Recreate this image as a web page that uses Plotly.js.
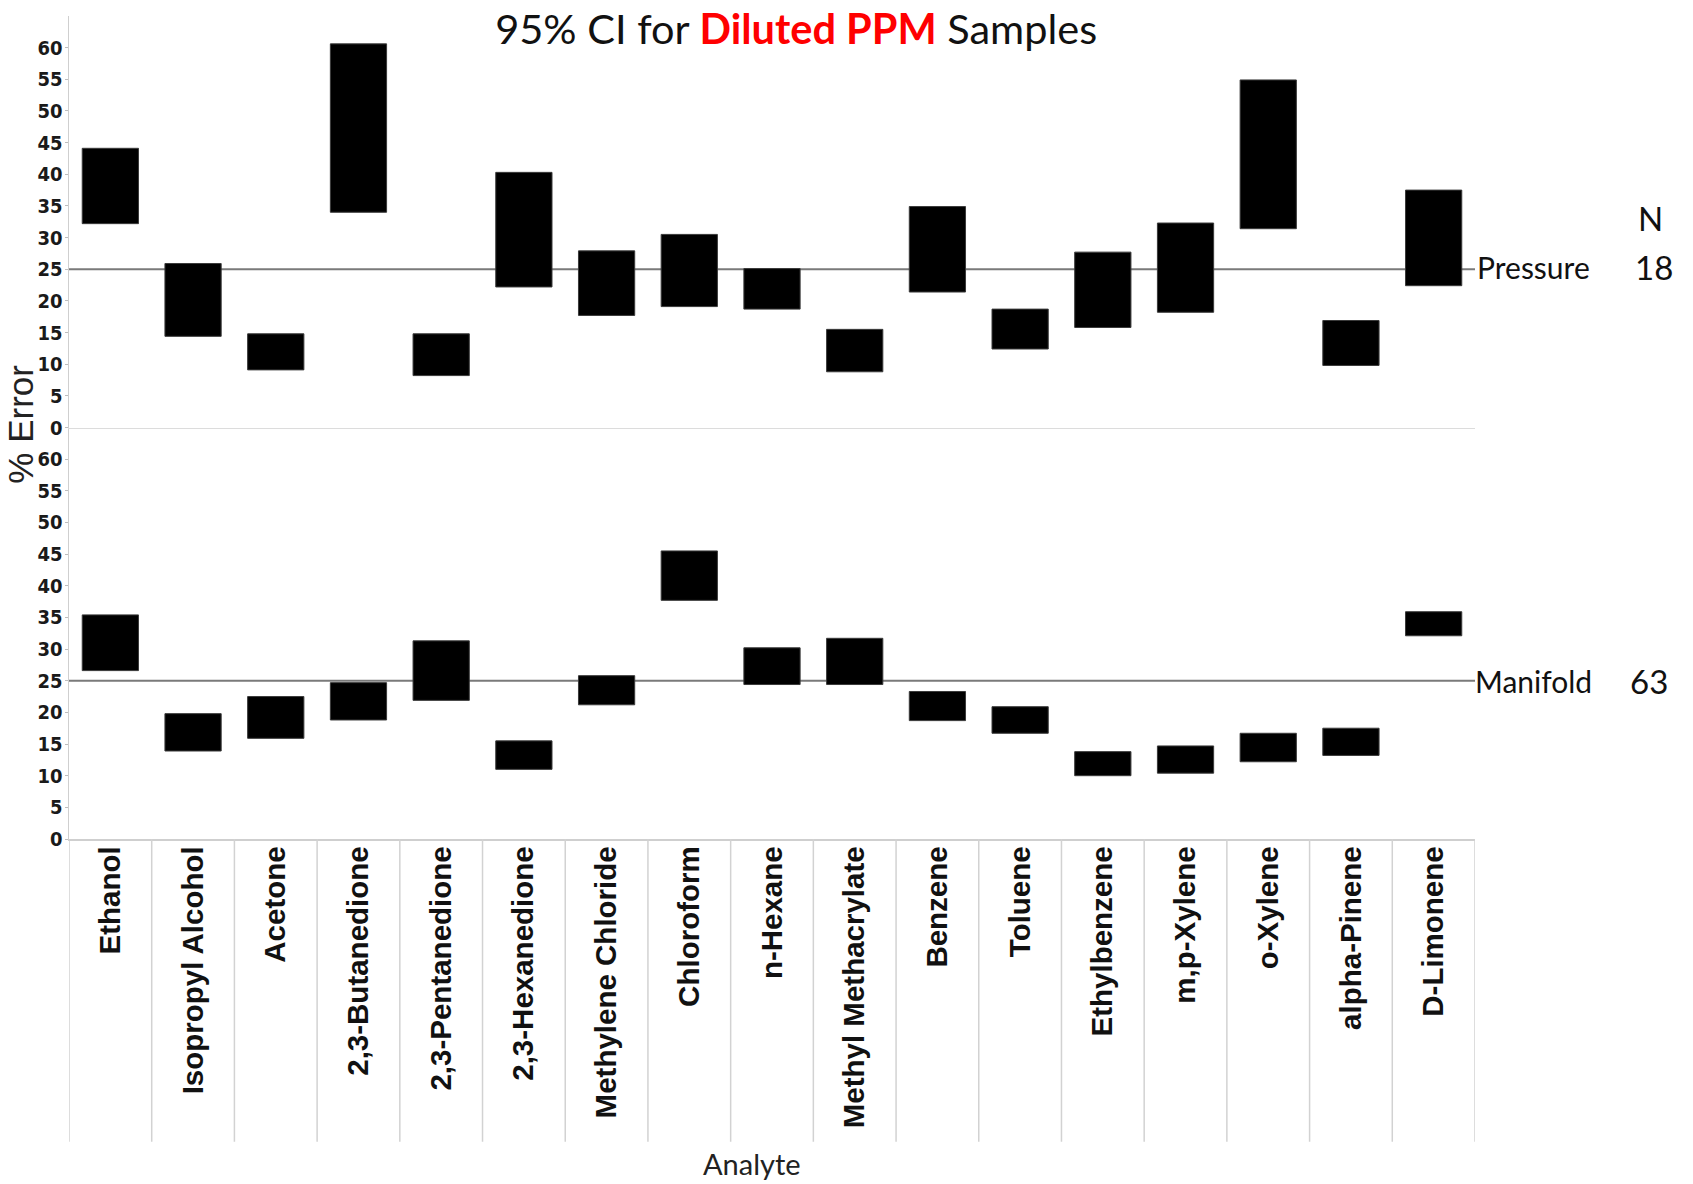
<!DOCTYPE html>
<html>
<head>
<meta charset="utf-8">
<script src="https://cdn.plot.ly/plotly-3.0.1.min.js"></script>
<style>
  html, body { margin: 0; padding: 0; background: #ffffff; }
  #chart { width: 1693px; height: 1184px; }
</style>
</head>
<body>
<div id="chart"></div>
<script>
// ---- Data ----
const analytes = [
  "Ethanol", "Isopropyl Alcohol", "Acetone", "2,3-Butanedione", "2,3-Pentanedione",
  "2,3-Hexanedione", "Methylene Chloride", "Chloroform", "n-Hexane", "Methyl Methacrylate",
  "Benzene", "Toluene", "Ethylbenzene", "m,p-Xylene", "o-Xylene", "alpha-Pinene", "D-Limonene"
];

// Pressure (N = 18): 95% CI of % error
const pressureLow  = [32.2, 14.4, 9.1, 34.0, 8.2, 22.2, 17.7, 19.1, 18.7, 8.8, 21.4, 12.4, 15.8, 18.2, 31.4, 9.8, 22.4];
const pressureHigh = [44.1, 25.9, 14.8, 60.6, 14.8, 40.3, 27.9, 30.5, 25.1, 15.5, 34.9, 18.7, 27.7, 32.3, 54.9, 16.9, 37.5];

// Manifold (N = 63): 95% CI of % error
const manifoldLow  = [26.6, 13.9, 15.9, 18.8, 21.9, 11.0, 21.2, 37.7, 24.4, 24.4, 18.7, 16.7, 10.0, 10.4, 12.2, 13.2, 32.1];
const manifoldHigh = [35.4, 19.8, 22.5, 24.7, 31.3, 15.5, 25.8, 45.5, 30.2, 31.7, 23.3, 20.9, 13.8, 14.7, 16.7, 17.5, 35.9];

const groups = ["Pressure", "Manifold"];
const groupN = [18, 63];
const referenceError = 25;
const yTickVals = [0, 5, 10, 15, 20, 25, 30, 35, 40, 45, 50, 55, 60];

// ---- Traces ----
function spans(lo, hi) { return hi.map((h, i) => h - lo[i]); }

const barStyle = { color: "#000000", line: { color: "#3a3a3a", width: 1 } };

const traces = [
  {
    type: "bar", name: groups[0], x: analytes, base: pressureLow,
    y: spans(pressureLow, pressureHigh), xaxis: "x2", yaxis: "y2",
    width: 0.68, marker: barStyle, showlegend: false, hoverinfo: "x+y"
  },
  {
    type: "bar", name: groups[1], x: analytes, base: manifoldLow,
    y: spans(manifoldLow, manifoldHigh), xaxis: "x", yaxis: "y",
    width: 0.68, marker: barStyle, showlegend: false, hoverinfo: "x+y"
  }
];

// ---- Shapes: reference lines & category separators ----
const shapes = [
  { type: "line", xref: "paper", x0: 0, x1: 1, yref: "y2", y0: referenceError, y1: referenceError,
    line: { color: "#7a7a7a", width: 2 }, layer: "below" },
  { type: "line", xref: "paper", x0: 0, x1: 1, yref: "y", y0: referenceError, y1: referenceError,
    line: { color: "#7a7a7a", width: 2 }, layer: "below" }
];
for (let i = 0; i <= analytes.length; i++) {
  shapes.push({
    type: "line", xref: "x", x0: i - 0.5, x1: i - 0.5, yref: "paper", y0: 0, y1: -0.368,
    line: { color: "#d2d2d2", width: 1.5 }
  });
}

const tickFont = { family: "Liberation Sans Narrow, DejaVu Sans Condensed, Arial Narrow, sans-serif", size: 20, color: "#1a1a1a", weight: 700 };
const sideFont = { family: "Lato, Open Sans, sans-serif", size: 30, color: "#111111" };
const numFont  = { family: "Lato, Open Sans, sans-serif", size: 33, color: "#111111" };

const annotations = [
  { text: "% Error", xref: "paper", yref: "paper", x: -0.0345, y: 0.504, textangle: -90,
    showarrow: false, xanchor: "center", yanchor: "middle",
    font: { family: "Liberation Sans, Arial, sans-serif", size: 35, color: "#222222" } },
  { text: "Analyte", xref: "paper", yref: "paper", x: 0.486, y: -0.394,
    showarrow: false, xanchor: "center", yanchor: "middle",
    font: { family: "Lato, Open Sans, sans-serif", size: 29, color: "#222222" } },
  { text: groups[0], xref: "paper", yref: "y2", x: 1, y: referenceError, xshift: 0, yshift: 2,
    showarrow: false, xanchor: "left", yanchor: "middle", font: sideFont },
  { text: String(groupN[0]), xref: "paper", yref: "y2", x: 1, y: referenceError, xshift: 158, yshift: 2,
    showarrow: false, xanchor: "left", yanchor: "middle", font: numFont },
  { text: "N", xref: "paper", yref: "y2", x: 1, y: referenceError, xshift: 161, yshift: 51,
    showarrow: false, xanchor: "left", yanchor: "middle", font: numFont },
  { text: groups[1], xref: "paper", yref: "y", x: 1, y: referenceError, xshift: -2,
    showarrow: false, xanchor: "left", yanchor: "middle", font: sideFont },
  { text: String(groupN[1]), xref: "paper", yref: "y", x: 1, y: referenceError, xshift: 153,
    showarrow: false, xanchor: "left", yanchor: "middle", font: numFont }
];

const yCommon = {
  range: [0, 65], tickvals: yTickVals, showgrid: false, zeroline: false,
  showline: true, linecolor: "#cfcfcf", linewidth: 1.5,
  ticks: "outside", ticklen: 3, tickcolor: "#bdbdbd", tickwidth: 1, ticklabelstandoff: -2,
  tickfont: tickFont, automargin: false, fixedrange: true
};

const layout = {
  width: 1693, height: 1184,
  paper_bgcolor: "#ffffff", plot_bgcolor: "#ffffff",
  margin: { l: 69, r: 218, t: 16, b: 345, pad: 0 },
  font: { family: "Liberation Sans, Arial, sans-serif", color: "#000000" },
  title: {
    text: '95% CI for <span style="color:#ff0000"><b>Diluted PPM</b></span> Samples',
    font: { family: "Lato, Open Sans, sans-serif", size: 41.5, color: "#111111" },
    xref: "container", yref: "container", x: 0.4703, y: 0.9755,
    xanchor: "center", yanchor: "middle"
  },
  showlegend: false,
  barmode: "overlay",
  xaxis: {
    type: "category", range: [-0.5, analytes.length - 0.5], anchor: "y",
    showgrid: false, zeroline: false, showline: true, linecolor: "#cfcfcf", linewidth: 1.5,
    ticks: "", tickangle: -90, ticklabelstandoff: -6,
    tickfont: { family: "Liberation Sans, Arial, sans-serif", size: 29.5, color: "#111111", weight: 700 },
    automargin: false, fixedrange: true
  },
  xaxis2: {
    type: "category", range: [-0.5, analytes.length - 0.5], anchor: "y2", matches: "x",
    showgrid: false, zeroline: false, showline: true, linecolor: "#dcdcdc", linewidth: 1.5,
    showticklabels: false, ticks: "", automargin: false, fixedrange: true
  },
  yaxis: Object.assign({ domain: [0, 0.5], anchor: "x" }, yCommon),
  yaxis2: Object.assign({ domain: [0.5, 1], anchor: "x2" }, yCommon),
  shapes: shapes,
  annotations: annotations
};

Plotly.newPlot("chart", traces, layout, { displayModeBar: false, staticPlot: true });
</script>
</body>
</html>
